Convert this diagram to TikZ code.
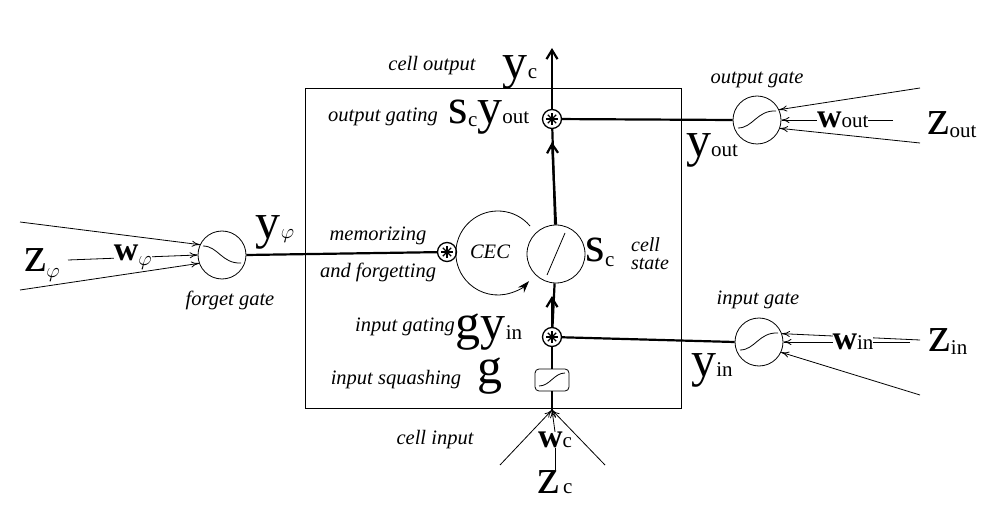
\documentclass[tikz,border=0pt]{standalone}
\usepackage{fontspec}
\setmainfont{Liberation Serif}
\usetikzlibrary{arrows.meta}
\newcommand\BL[1]{{\fontsize{50}{50}\selectfont #1}}
\newcommand\SB[1]{{\fontsize{21}{21}\selectfont #1}}
\newcommand\BW[1]{{\fontsize{34}{34}\selectfont\bfseries #1}}
\begin{document}
\begin{tikzpicture}[x=1pt,y=-1pt,
  lab/.style={font=\fontsize{20.5}{22}\selectfont\itshape},
  thk/.style={line width=2.2pt},
  thn/.style={line width=0.8pt},
  mul/.style={circle,draw,line width=1.3pt,minimum size=19pt,inner sep=0pt,fill=white},
  gate/.style={circle,draw,line width=0.8pt,minimum size=48pt,inner sep=0pt},
  inp/.style={line width=0.8pt,-{To[length=8pt,width=6pt]}},
  big/.style={inner sep=0pt}]
\useasboundingbox (0,0) rectangle (995,510);
\draw[line width=0.8pt] (305,88) rectangle (681,408);

% nodes
\node[mul] (mo) at (552,119) {};
\node[mul] (mi) at (552,337) {};
\node[mul] (mf) at (447,252) {};
\node[circle,draw,line width=0.8pt,minimum size=58pt,inner sep=0pt] (st) at (556,254) {};
\node[draw,rounded corners=4pt,line width=0.8pt,minimum width=34pt,minimum height=22pt,inner sep=0pt] (sq) at (552,380) {};
\node[gate] (og) at (757,120) {};
\node[gate] (ig) at (759,342) {};
\node[gate] (fg) at (222,255) {};
\coordinate (top) at (552,48);
\coordinate (bot) at (552,410);

% CEC loop
\draw[line width=0.8pt,-{Stealth[length=12pt,width=8pt]}] (530,226) arc[start angle=-40,end angle=-318,radius=42];

% main connections
\draw[thk,-{Straight Barb[length=9pt,width=11pt]}] (mo) -- (top);
\draw[thk] (st) -- (mo);
\draw[thk,-{Straight Barb[length=9pt,width=11pt]}] (st.north) -- (552,142);
\draw[thk] (mi) -- (st);
\draw[thk,-{Straight Barb[length=9pt,width=11pt]}] (mi.north) -- (552,296);
\draw[thk] (sq) -- (mi);
\draw[thk] (bot) -- (sq);
\draw[thk] (og.west) -- (mo);
\draw[thk] (ig.west) -- (mi);
\draw[thk] (fg.east) -- (mf);

% asterisks
\foreach \n in {mo,mi,mf}{
  \foreach \a in {0,45,...,315}
    \draw[line width=1.2pt] (\n.center) -- ++(\a:6pt);
}
% sigmoids
\draw[thn] ([xshift=-19pt,yshift=-8pt]og.center) .. controls ([xshift=-4pt,yshift=-8pt]og.center) and ([xshift=0pt,yshift=10pt]og.center) .. ([xshift=19pt,yshift=9pt]og.center);
\draw[thn] ([xshift=-19pt,yshift=-8pt]ig.center) .. controls ([xshift=-4pt,yshift=-8pt]ig.center) and ([xshift=0pt,yshift=10pt]ig.center) .. ([xshift=19pt,yshift=9pt]ig.center);
\draw[thn] ([xshift=-19pt,yshift=9pt]fg.center) .. controls ([xshift=-4pt,yshift=9pt]fg.center) and ([xshift=0pt,yshift=-9pt]fg.center) .. ([xshift=19pt,yshift=-8pt]fg.center);
\draw[thn] ([xshift=-13pt,yshift=-6pt]sq.center) .. controls ([xshift=-2pt,yshift=-6pt]sq.center) and ([xshift=2pt,yshift=7pt]sq.center) .. ([xshift=13pt,yshift=7pt]sq.center);
\draw[thn] ([shift={(-9pt,-21pt)}]st.center) -- ([shift={(9pt,21pt)}]st.center);

% gate inputs
\draw[inp] (920,88) -- (og.25);
\draw[inp] (920,143) -- (og.-20);
\draw[inp] (920,340) -- (ig.20);
\draw[inp] (920,395) -- (ig.-25);
\draw[inp] (20,222) -- (fg.155);
\draw[inp] (20,290) -- (fg.200);
\draw[inp] (893,120) -- node[pos=0.45,fill=white,big] (wo) {\BW{w}\SB{out}} (og.east);
\node[big] (zo) at (952,125) {\BL{z}\SB{\raisebox{-3pt}{out}}};
\draw[inp] (910,342) -- node[pos=0.45,fill=white,big] (wi) {\BW{w}\SB{in}} (ig.east);
\node[big] (zi) at (948,342) {\BL{z}\SB{\raisebox{-3pt}{in}}};
\node[big] (zf) at (42,265) {\BL{z}\SB{\raisebox{-6pt}{$\varphi$}}};
\draw[inp] (68,260) -- node[pos=0.5,fill=white,big] (wf) {\BW{w}\SB{\raisebox{-5pt}{$\varphi$}}} (fg.west);

% cell input
\node[big] (wc) at (555,440) {\BW{w}\SB{c}};
\node[big] (zc) at (555,482) {\BL{z}\SB{\,c}};
\draw[thn] (wc.south) -- (zc.north);
\draw[inp] (500,465) -- (bot);
\draw[inp] (605,465) -- (bot);
\draw[inp] (wc.north) -- (bot);

% labels
\node[big] at (520,72) {\BL{y}\SB{c}};
\node[lab] at (432,66) {cell output};
\node[lab] at (383,117) {output gating};
\node[big] at (489,117) {\BL{s}\SB{\raisebox{-3pt}{c}}\BL{y}\SB{out}};
\node[big] at (712,150) {\BL{y}\SB{out}};
\node[lab] at (757,80) {output gate};
\node[lab] at (378,236) {memorizing};
\node[lab] at (378,272) {and forgetting};
\node[lab] at (490,252) {CEC};
\node[big] at (600,252) {\BL{s}\SB{\raisebox{-5pt}{c}}};
\node[lab,align=left,font=\fontsize{20}{18}\selectfont\itshape] at (650,254) {cell\\state};
\node[big] at (275,232) {\BL{y}\SB{$\varphi$}};
\node[lab] at (230,300) {forget gate};
\node[lab] at (405,327) {input gating};
\node[big] at (489,332) {\BL{g}\BL{y}\SB{in}};
\node[lab] at (396,380) {input squashing};
\node[big] at (490,376) {\BL{g}};
\node[lab] at (435,440) {cell input};
\node[lab] at (758,300) {input gate};
\node[big] at (712,370) {\BL{y}\SB{in}};
\end{tikzpicture}
\end{document}
